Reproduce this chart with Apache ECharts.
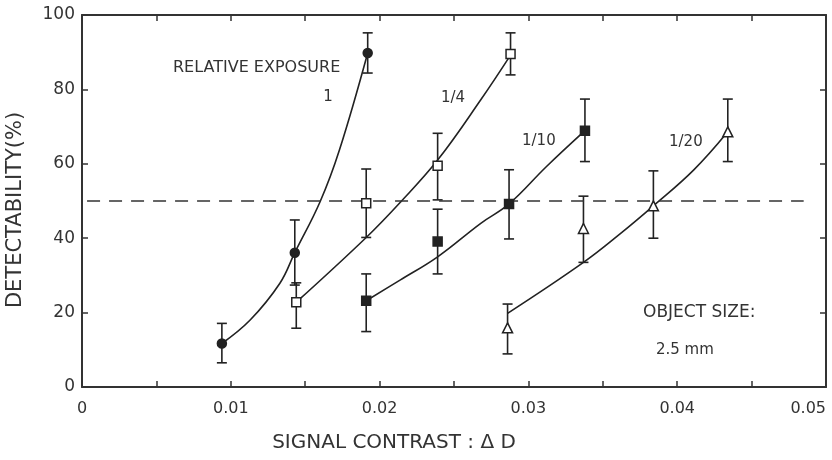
<!DOCTYPE html>
<html>
<head>
<meta charset="utf-8">
<script src="https://cdn.jsdelivr.net/npm/echarts@6/dist/echarts.min.js"></script>
<style>html,body{margin:0;padding:0;background:#fff}#c{width:832px;height:460px}</style>
</head>
<body>
<div id="c"></div>
<script>
// ---- data ----
const xTickLabels = ['0', '0.01', '0.02', '0.03', '0.04', '0.05'];
const yTickLabels = ['0', '20', '40', '60', '80', '100'];

// Relative exposure 1 (filled circles)
const exp1X  = [0.0094, 0.0143, 0.0192];
const exp1Y  = [11.7, 36.1, 89.8];
const exp1Lo = [6.5, 27.4, 84.4];
const exp1Hi = [17.1, 44.9, 95.2];
const fit1 = [[0.0094, 11.7], [0.0113, 18.0], [0.0133, 27.9], [0.0143, 36.1], [0.0160, 49.8], [0.0173, 63.7], [0.0192, 89.8]];

// Relative exposure 1/4 (open squares)
const exp4X  = [0.0144, 0.0191, 0.0239, 0.0288];
const exp4Y  = [22.8, 49.4, 59.5, 89.5];
const exp4Lo = [15.8, 40.2, 50.3, 83.9];
const exp4Hi = [28.0, 58.6, 68.2, 95.2];
const fit4 = [[0.0144, 22.8], [0.0191, 40.2], [0.0214, 49.7], [0.0239, 61.0], [0.0268, 77.2], [0.0288, 89.2]];

// Relative exposure 1/10 (filled squares)
const exp10X  = [0.0191, 0.0239, 0.0287, 0.0338];
const exp10Y  = [23.2, 39.1, 49.2, 68.9];
const exp10Lo = [14.9, 30.4, 39.8, 60.6];
const exp10Hi = [30.4, 47.8, 58.4, 77.4];
const fit10 = [[0.0191, 23.2], [0.0214, 28.8], [0.0239, 35.0], [0.0268, 44.0], [0.0287, 49.2], [0.0312, 59.2], [0.0338, 68.9]];

// Relative exposure 1/20 (open triangles)
const exp20X  = [0.0286, 0.0337, 0.0384, 0.0434];
const exp20Y  = [15.9, 42.6, 48.7, 68.6];
const exp20Lo = [8.9, 33.5, 40.0, 60.6];
const exp20Hi = [22.3, 51.3, 58.1, 77.4];
const fit20 = [[0.0286, 19.8], [0.0337, 33.5], [0.0362, 41.3], [0.0384, 48.7], [0.0411, 58.3], [0.0434, 68.6]];

const refLevel = 50;
const refStart = 0.00034, refEnd = 0.0485;

// ---- chart ----
const INK = '#222';
const FONT = 'DejaVu Sans';
const chart = echarts.init(document.getElementById('c'), null, {renderer: 'canvas'});

function pts(xs, ys) { return xs.map((x, i) => [x, ys[i]]); }
function bars(xs, lo, hi) { return xs.map((x, i) => [x, lo[i], hi[i]]); }

function renderErr(params, api) {
  const x = api.value(0), lo = api.value(1), hi = api.value(2);
  const a = api.coord([x, lo]), b = api.coord([x, hi]);
  const w = 5;
  const st = {stroke: INK, lineWidth: 1.6};
  return {type: 'group', children: [
    {type: 'line', shape: {x1: a[0], y1: a[1], x2: b[0], y2: b[1]}, style: st},
    {type: 'line', shape: {x1: a[0] - w, y1: a[1], x2: a[0] + w, y2: a[1]}, style: st},
    {type: 'line', shape: {x1: b[0] - w, y1: b[1], x2: b[0] + w, y2: b[1]}, style: st}
  ]};
}

function errSeries(name, data) {
  return {name: name + ' error', type: 'custom', renderItem: renderErr, data: data, z: 2, silent: true};
}
function curve(name, data) {
  return {name: name + ' fit', type: 'line', data: data, smooth: 0.4, showSymbol: false,
          lineStyle: {color: INK, width: 1.6}, z: 3, silent: true};
}
function marks(name, data, symbol, filled, size) {
  return {name: name, type: 'scatter', data: data, symbol: symbol, symbolSize: size,
          itemStyle: {color: filled ? INK : '#fff', borderColor: INK, borderWidth: 1.5, opacity: 1}, z: 5};
}

const axisLineStyle = {color: '#333', width: 2};
const tickStyle = {show: true, inside: true, length: 6, lineStyle: {color: '#333', width: 1.5}};
const axisLine = {show: true, onZero: false, lineStyle: axisLineStyle};

const option = {
  backgroundColor: '#fff',
  animation: false,
  grid: {left: 82, right: 6, top: 15, bottom: 73, containLabel: false, outerBoundsMode: 'none'},
  xAxis: [
    {type: 'value', position: 'bottom', min: 0, max: 0.05, interval: 0.005,
     axisLine: axisLine, axisTick: tickStyle, splitLine: {show: false},
     axisLabel: {margin: 14, color: '#333', fontSize: 16, fontFamily: FONT, hideOverlap: false, alignMaxLabel: 'right',
       formatter: v => { const k = Math.round(v / 0.01 * 2); return k % 2 === 0 ? xTickLabels[k / 2] : ''; }},
     name: 'SIGNAL CONTRAST : Δ D', nameLocation: 'middle', nameGap: 46,
     nameTextStyle: {fontSize: 20, color: '#333', fontFamily: FONT, padding: [0, 120, 0, 0]}},
    {type: 'value', position: 'top', min: 0, max: 0.05, interval: 0.005,
     axisLine: axisLine, axisTick: tickStyle, axisLabel: {show: false}, splitLine: {show: false}}
  ],
  yAxis: [
    {type: 'value', position: 'left', min: 0, max: 100, interval: 20,
     axisLine: axisLine, axisTick: tickStyle, splitLine: {show: false},
     axisLabel: {margin: 7, color: '#333', fontSize: 17, fontFamily: FONT,
       formatter: v => yTickLabels[Math.round(v / 20)]},
     name: 'DETECTABILITY(%)', nameLocation: 'middle', nameGap: 56,
     nameTextStyle: {fontSize: 21, color: '#333', fontFamily: FONT, padding: [0, 18, 0, 0]}},
    {type: 'value', position: 'right', min: 0, max: 100, interval: 20,
     axisLine: axisLine, axisTick: tickStyle, axisLabel: {show: false}, splitLine: {show: false}}
  ],
  series: [
    errSeries('1', bars(exp1X, exp1Lo, exp1Hi)),
    errSeries('1/4', bars(exp4X, exp4Lo, exp4Hi)),
    errSeries('1/10', bars(exp10X, exp10Lo, exp10Hi)),
    errSeries('1/20', bars(exp20X, exp20Lo, exp20Hi)),
    Object.assign(curve('1', fit1), {
      markLine: {silent: true, symbol: 'none', label: {show: false},
        lineStyle: {color: '#333', width: 1.6, type: [13, 9]},
        data: [[{coord: [refStart, refLevel]}, {coord: [refEnd, refLevel]}]]}
    }),
    curve('1/4', fit4),
    curve('1/10', fit10),
    curve('1/20', fit20),
    marks('1', pts(exp1X, exp1Y), 'circle', true, 9),
    marks('1/4', pts(exp4X, exp4Y), 'rect', false, 9),
    marks('1/10', pts(exp10X, exp10Y), 'rect', true, 9),
    marks('1/20', pts(exp20X, exp20Y), 'triangle', false, 10)
  ],
  graphic: [
    {type: 'text', x: 173, y: 68, style: {text: 'RELATIVE EXPOSURE', fontSize: 16, fontFamily: FONT, fill: '#333', verticalAlign: 'middle'}},
    {type: 'text', x: 328, y: 97, style: {text: '1', fontSize: 15, fontFamily: FONT, fill: '#333', align: 'center', verticalAlign: 'middle'}},
    {type: 'text', x: 441, y: 98, style: {text: '1/4', fontSize: 15, fontFamily: FONT, fill: '#333', verticalAlign: 'middle'}},
    {type: 'text', x: 522, y: 141, style: {text: '1/10', fontSize: 15, fontFamily: FONT, fill: '#333', verticalAlign: 'middle'}},
    {type: 'text', x: 669, y: 142, style: {text: '1/20', fontSize: 15, fontFamily: FONT, fill: '#333', verticalAlign: 'middle'}},
    {type: 'text', x: 643, y: 313, style: {text: 'OBJECT SIZE:', fontSize: 17, fontFamily: FONT, fill: '#333', verticalAlign: 'middle'}},
    {type: 'text', x: 656, y: 350, style: {text: '2.5 mm', fontSize: 15, fontFamily: FONT, fill: '#333', verticalAlign: 'middle'}}
  ]
};
chart.setOption(option);
</script>
</body>
</html>
